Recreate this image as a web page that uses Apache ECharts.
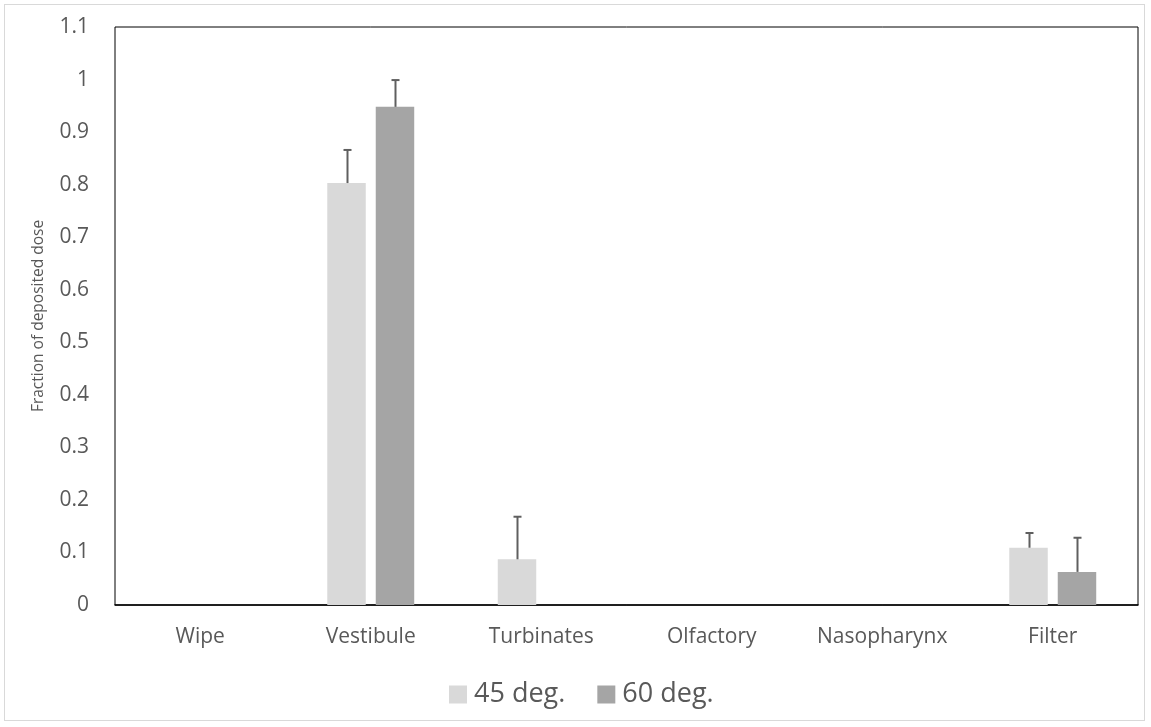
<!DOCTYPE html>
<html>
<head>
<meta charset="utf-8">
<script src="https://cdn.jsdelivr.net/npm/echarts@6/dist/echarts.min.js"></script>
<style>
  html, body { margin: 0; padding: 0; background: #fff; }
  #frame { position: absolute; left: 4px; top: 4px; width: 1141px; height: 717px; border: 1px solid #d9d9d9; box-sizing: border-box; }
  #chart { width: 1151px; height: 727px; }
</style>
</head>
<body>
<div id="frame"></div>
<div id="chart"></div>
<script>
// Deposition regions along the nasal airway
const categories = ['Wipe', 'Vestibule', 'Turbinates', 'Olfactory', 'Nasopharynx', 'Filter'];
const seriesNames = ['45 deg.', '60 deg.'];

// Mean fraction of deposited dose per region
const dose45 = [0, 0.803, 0.087, 0, 0, 0.109];
const dose60 = [0, 0.948, 0, 0, 0, 0.063];

// Upper error (added on top of the mean)
const err45 = [0, 0.063, 0.081, 0, 0, 0.028];
const err60 = [0, 0.051, 0, 0, 0, 0.065];

const yTicks = { min: 0, max: 1.1, interval: 0.1 };

const colors = ['#d9d9d9', '#a5a5a5'];
const errColor = '#5f5f5f';
const catGap = 0.49;   // barCategoryGap fraction
const barGap = 0.26;   // barGap fraction
const font = '"Open Sans", "Noto Sans", sans-serif';

function errorSeries(values, errors, index) {
  const data = values.map((v, i) => [i, v, errors[i]]);
  return {
    type: 'custom',
    name: seriesNames[index] + ' error',
    z: 5,
    silent: true,
    data: data,
    renderItem: function (params, api) {
      const i = api.value(0);
      const v = api.value(1);
      const e = api.value(2);
      if (!e) return null;
      const band = api.size([1, 0])[0];
      const bw = band * (1 - catGap) / (2 + barGap);
      const off = bw * (1 + barGap) / 2 * (index === 0 ? -1 : 1);
      const base = api.coord([i, v]);
      const top = api.coord([i, v + e]);
      const x = Math.round(base[0] + off) + 0.5;
      const cap = 4;
      return {
        type: 'group',
        children: [
          { type: 'line', shape: { x1: x, y1: base[1], x2: x, y2: top[1] },
            style: { stroke: errColor, lineWidth: 2 } },
          { type: 'line', shape: { x1: x - cap, y1: top[1], x2: x + cap, y2: top[1] },
            style: { stroke: errColor, lineWidth: 2 } }
        ]
      };
    }
  };
}

const chart = echarts.init(document.getElementById('chart'), null, { renderer: 'canvas' });
chart.setOption({
  animation: false,
  backgroundColor: 'transparent',
  color: colors,
  grid: { left: 115, right: 13, top: 27, bottom: 122, show: true, borderColor: '#000', borderWidth: 1 },
  legend: {
    data: seriesNames,
    bottom: 14,
    left: 444,
    icon: 'rect',
    itemWidth: 18,
    itemHeight: 18,
    itemGap: 32,
    textStyle: { fontFamily: font, fontSize: 27, color: '#595959', padding: [0, 0, 0, 2] }
  },
  xAxis: {
    type: 'category',
    data: categories,
    axisLine: { show: true, lineStyle: { color: '#000', width: 1.5 } },
    axisTick: { show: false },
    axisLabel: { interval: 0, hideOverlap: false, margin: 22, fontFamily: font, fontSize: 21, color: '#595959' }
  },
  yAxis: {
    type: 'value',
    min: yTicks.min,
    max: yTicks.max,
    interval: yTicks.interval,
    name: 'Fraction of deposited dose',
    nameLocation: 'middle',
    nameGap: 68,
    nameTextStyle: { fontFamily: font, fontSize: 15.5, color: '#595959' },
    axisLine: { show: false },
    axisTick: { show: false },
    splitLine: { show: false },
    axisLabel: {
      margin: 26,
      fontFamily: font,
      fontSize: 21,
      color: '#595959',
      formatter: v => String(Math.round(v * 10) / 10)
    }
  },
  series: [
    { type: 'bar', name: seriesNames[0], data: dose45, barCategoryGap: (catGap * 100) + '%', barGap: (barGap * 100) + '%', itemStyle: { color: colors[0] } },
    { type: 'bar', name: seriesNames[1], data: dose60, barCategoryGap: (catGap * 100) + '%', barGap: (barGap * 100) + '%', itemStyle: { color: colors[1] } },
    errorSeries(dose45, err45, 0),
    errorSeries(dose60, err60, 1)
  ]
});
</script>
</body>
</html>
